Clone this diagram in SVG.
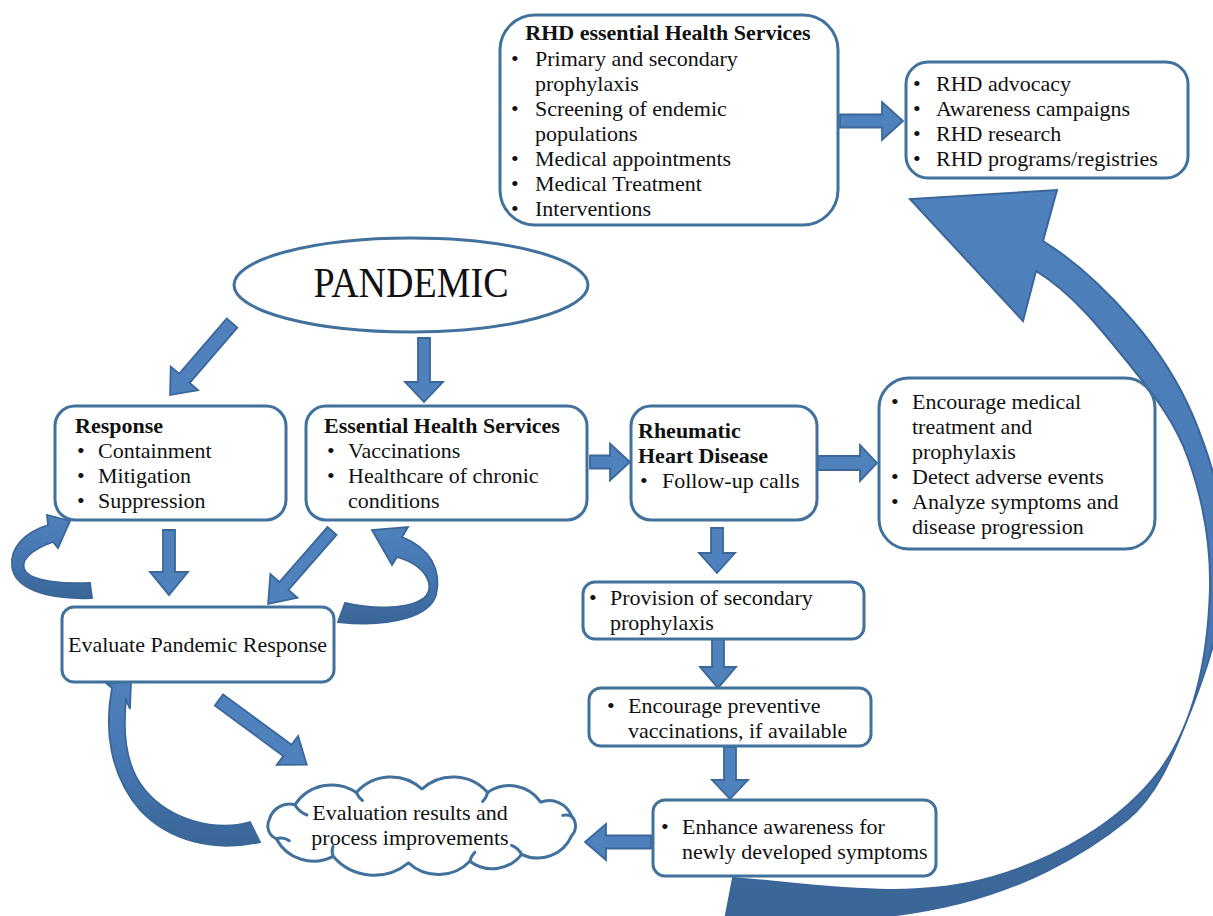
<svg xmlns="http://www.w3.org/2000/svg" width="1213" height="916" viewBox="0 0 1213 916">
<defs>
<style>
.box{fill:#fff;stroke:#41719C;stroke-width:3}
.ar{fill:#4F81BD;stroke:#3A6699;stroke-width:1.8;stroke-linejoin:miter}
.cv{fill:url(#cg);stroke:#3A6699;stroke-width:1.8}
.t{font-family:"Liberation Serif","Times New Roman",serif;font-size:22px;fill:#111}
.b{font-weight:bold}
.curl{fill:none;stroke:#41719C;stroke-width:3;stroke-linecap:round}
</style>
<linearGradient id="cg" x1="0" y1="0" x2="0" y2="1">
<stop offset="0" stop-color="#4F81BD"/>
<stop offset="0.5" stop-color="#4677B3"/>
<stop offset="1" stop-color="#3A6596"/>
</linearGradient>
<linearGradient id="bg" gradientUnits="userSpaceOnUse" x1="0" y1="190" x2="0" y2="916">
<stop offset="0" stop-color="#4F81BD"/>
<stop offset="0.5" stop-color="#4A7BB7"/>
<stop offset="1" stop-color="#3A6596"/>
</linearGradient>
</defs>
<rect width="1213" height="916" fill="#fff"/>

<g id="connectors">
<polygon class="ar" transform="translate(840,121)" points="0,-6.5 42,-6.5 42,-19 63,0 42,19 42,6.5 0,6.5"/>
<polygon class="ar" transform="translate(232,323) rotate(130.7)" points="0,-7 73,-7 73,-18 95,0 73,18 73,7 0,7"/>
<polygon class="ar" transform="translate(424,338) rotate(90)" points="0,-6 44,-6 44,-19 64,0 44,19 44,6 0,6"/>
<polygon class="ar" transform="translate(590,462)" points="0,-6.5 20,-6.5 20,-18.5 40,0 20,18.5 20,6.5 0,6.5"/>
<polygon class="ar" transform="translate(818,463)" points="0,-7 42,-7 42,-18 59,0 42,18 42,7 0,7"/>
<polygon class="ar" transform="translate(169,530) rotate(90)" points="0,-6 42,-6 42,-19 65,0 42,19 42,6 0,6"/>
<polygon class="ar" transform="translate(332,531) rotate(131.2)" points="0,-6 73,-6 73,-18 97,0 73,18 73,6 0,6"/>
<polygon class="ar" transform="translate(219,700) rotate(36.4)" points="0,-7 85,-7 85,-18 109,0 85,18 85,7 0,7"/>
<polygon class="ar" transform="translate(717,528) rotate(90)" points="0,-6 25,-6 25,-18 45,0 25,18 25,6 0,6"/>
<polygon class="ar" transform="translate(718,639) rotate(90)" points="0,-6 28,-6 28,-18 49,0 28,18 28,6 0,6"/>
<polygon class="ar" transform="translate(730,747) rotate(90)" points="0,-6 33,-6 33,-18 52,0 33,18 33,6 0,6"/>
<polygon class="ar" transform="translate(651,842) rotate(180)" points="0,-6.5 45,-6.5 45,-18 66,0 45,18 45,6.5 0,6.5"/>
<path class="cv" d="M 90,583 C 65,584 35,582 26,572 C 18,562 30,550 53,542 L 58,548 L 70,521 L 47,515 L 48,525 C 25,532 10,548 12,566 C 14,588 45,600 92,598 Z"/>
<path class="cv" d="M 345,603 C 375,610 410,609 424,598 C 436,588 428,566 397,557 L 392,565 L 372,530 L 408,527 L 402,537 C 430,548 442,570 436,595 C 430,615 395,628 338,622 Z"/>
<path class="cv" d="M 250,822 C 215,832 170,820 145,790 C 128,770 122,740 126,700 L 130,709 L 131,681 L 107,684 L 112,688 C 104,730 110,775 140,810 C 170,842 215,852 260,842 Z"/>
<path fill="url(#bg)" stroke="#3A6699" stroke-width="2" d="M 733,878 C 820,885 909.5,901.4 993,877 C 1056,858.5 1120,823 1160,770 C 1197,720 1208,652 1210,590 C 1211,545 1203,500 1188,458 C 1176.5,425 1155,396 1133,369 C 1104,333 1075,295 1036,271 L 1023,321 L 910,199 L 1057,190 L 1043,241 C 1077,262 1107,291 1133,321 C 1157,349 1178.6,382 1193,416 C 1213,464 1228.6,518 1226,570 C 1223.4,622 1206,672 1187,720 C 1172.6,756 1157,795.4 1127,820 C 1079,859 1020,888 960,903 C 883.4,922 804,924 725,920 Z"/>
</g>

<g id="rhd-essential">
<rect class="box" x="500" y="15" width="338" height="210" rx="35"/>
<text class="t b" x="668" y="40" text-anchor="middle">RHD essential Health Services</text>
<text class="t" x="511" y="66">•</text><text class="t" x="535" y="66">Primary and secondary</text>
<text class="t" x="535" y="91">prophylaxis</text>
<text class="t" x="511" y="116">•</text><text class="t" x="535" y="116">Screening of endemic</text>
<text class="t" x="535" y="141">populations</text>
<text class="t" x="511" y="166">•</text><text class="t" x="535" y="166">Medical appointments</text>
<text class="t" x="511" y="191">•</text><text class="t" x="535" y="191">Medical Treatment</text>
<text class="t" x="511" y="216">•</text><text class="t" x="535" y="216">Interventions</text>
</g>

<g id="rhd-advocacy">
<rect class="box" x="906" y="62" width="282" height="116" rx="22"/>
<text class="t" x="913" y="91">•</text><text class="t" x="936" y="91">RHD advocacy</text>
<text class="t" x="913" y="116">•</text><text class="t" x="936" y="116">Awareness campaigns</text>
<text class="t" x="913" y="141">•</text><text class="t" x="936" y="141">RHD research</text>
<text class="t" x="913" y="166">•</text><text class="t" x="936" y="166">RHD programs/registries</text>
</g>

<g id="pandemic">
<ellipse cx="411" cy="285" rx="177" ry="47" fill="#fff" stroke="#41719C" stroke-width="3"/>
<text x="411" y="297" text-anchor="middle" textLength="195" lengthAdjust="spacingAndGlyphs" style="font-family:'Liberation Serif','Times New Roman',serif;font-size:42px;fill:#111">PANDEMIC</text>
</g>

<g id="response">
<rect class="box" x="55" y="406" width="231" height="114" rx="20"/>
<text class="t b" x="75" y="433">Response</text>
<text class="t" x="77" y="458">•</text><text class="t" x="98" y="458">Containment</text>
<text class="t" x="77" y="483">•</text><text class="t" x="98" y="483">Mitigation</text>
<text class="t" x="77" y="508">•</text><text class="t" x="98" y="508">Suppression</text>
</g>

<g id="essential-health-services">
<rect class="box" x="306" y="406" width="281" height="114" rx="20"/>
<text class="t b" x="324" y="433">Essential Health Services</text>
<text class="t" x="327" y="458">•</text><text class="t" x="348" y="458">Vaccinations</text>
<text class="t" x="327" y="483">•</text><text class="t" x="348" y="483">Healthcare of chronic</text>
<text class="t" x="348" y="508">conditions</text>
</g>

<g id="rheumatic-heart-disease">
<rect class="box" x="631" y="406" width="186" height="114" rx="20"/>
<text class="t b" x="638" y="438">Rheumatic</text>
<text class="t b" x="638" y="463">Heart Disease</text>
<text class="t" x="640" y="488">•</text><text class="t" x="662" y="488">Follow-up calls</text>
</g>

<g id="encourage-medical">
<rect class="box" x="879" y="378" width="276" height="171" rx="30"/>
<text class="t" x="891" y="409">•</text><text class="t" x="912" y="409">Encourage medical</text>
<text class="t" x="912" y="434">treatment and</text>
<text class="t" x="912" y="459">prophylaxis</text>
<text class="t" x="891" y="484">•</text><text class="t" x="912" y="484">Detect adverse events</text>
<text class="t" x="891" y="509">•</text><text class="t" x="912" y="509">Analyze symptoms and</text>
<text class="t" x="912" y="534">disease progression</text>
</g>

<g id="provision">
<rect class="box" x="583" y="582" width="281" height="57" rx="12"/>
<text class="t" x="589" y="605">•</text><text class="t" x="610" y="605">Provision of secondary</text>
<text class="t" x="610" y="630">prophylaxis</text>
</g>

<g id="encourage-preventive">
<rect class="box" x="589" y="688" width="282" height="58" rx="12"/>
<text class="t" x="607" y="713">•</text><text class="t" x="628" y="713">Encourage preventive</text>
<text class="t" x="628" y="738">vaccinations, if available</text>
</g>

<g id="enhance-awareness">
<rect class="box" x="653" y="800" width="283" height="76" rx="12"/>
<text class="t" x="661" y="834">•</text><text class="t" x="682" y="834">Enhance awareness for</text>
<text class="t" x="682" y="859">newly developed symptoms</text>
</g>

<g id="evaluate">
<rect class="box" x="62" y="607" width="272" height="75" rx="12"/>
<text class="t" x="68" y="652">Evaluate Pandemic Response</text>
</g>

<g id="evaluation-results">
<path fill="#fff" stroke="#41719C" stroke-width="3" stroke-linejoin="round" d="M 269.3,819.6 A 21 21 0 0 1 295,804.8 A 44 44 0 0 1 356.4,792.5 A 46 46 0 0 1 422,789 A 46 46 0 0 1 487.6,792.5 A 38 38 0 0 1 540.7,802.2 A 24 24 0 0 1 571.7,816.4 A 14 14 0 0 1 571.7,835.6 A 37 37 0 0 1 521.6,854.3 A 37 37 0 0 1 469.9,861.2 A 44 44 0 0 1 408.5,862.9 A 54 54 0 0 1 333.1,856.3 A 42 42 0 0 1 276.3,838.7 A 14 14 0 0 1 269.3,819.6 Z"/>
<path class="curl" d="M 295,805 q 4,7 12,10"/>
<path class="curl" d="M 356.4,792.5 q 2,5 6,8"/>
<path class="curl" d="M 487.6,792.5 q -1,5 -5,9"/>
<path class="curl" d="M 571.7,816.4 q -4,-2 -9,-1"/>
<path class="curl" d="M 521.6,854.3 q -3,-6 -10,-9"/>
<path class="curl" d="M 469.9,861.2 q 1,-5 5,-9"/>
<path class="curl" d="M 333.1,856.3 q -2,-5 0,-10"/>
<path class="curl" d="M 276.3,838.7 q 7,-2 13,2"/>
<text class="t" x="410" y="820" text-anchor="middle">Evaluation results and</text>
<text class="t" x="410" y="845" text-anchor="middle">process improvements</text>
</g>
</svg>
